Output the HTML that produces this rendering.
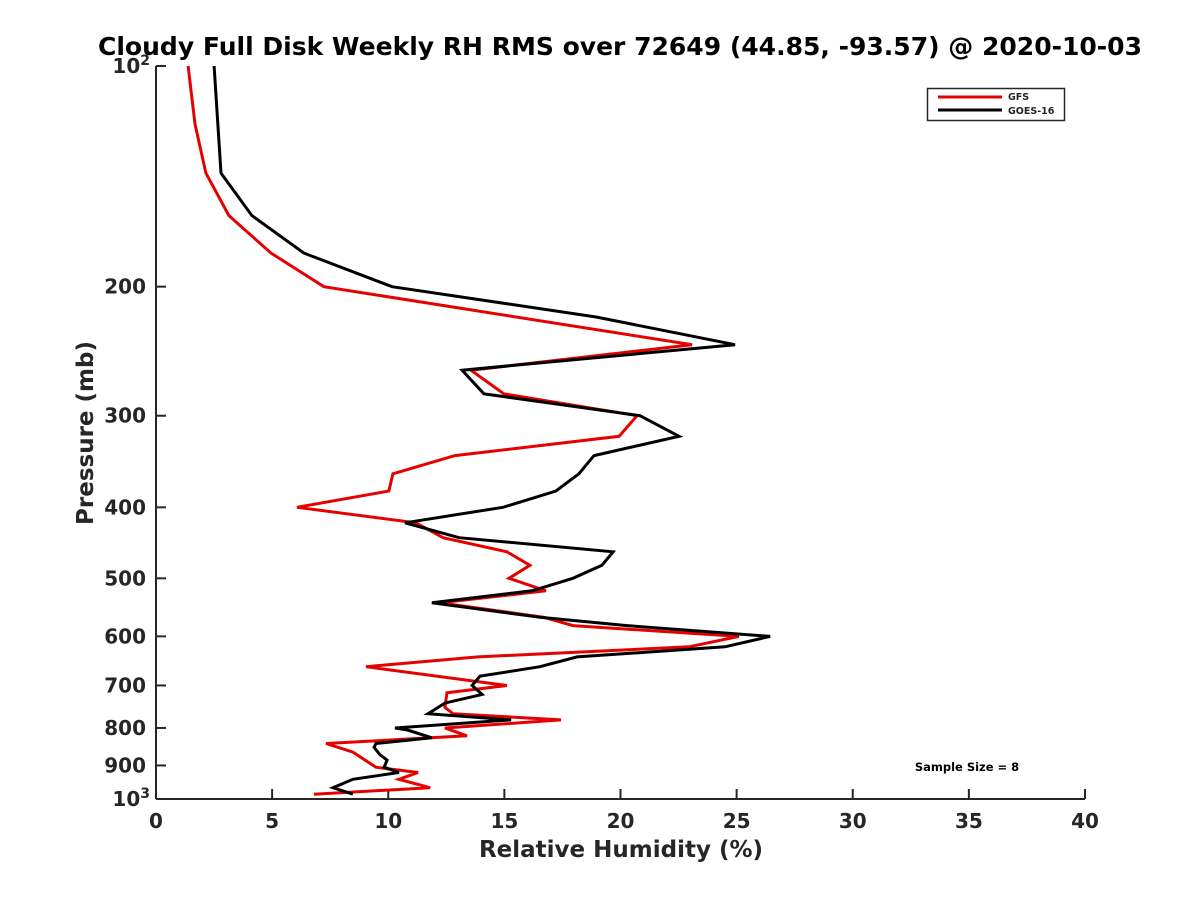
<!DOCTYPE html>
<html><head><meta charset="utf-8"><style>
body{margin:0;background:#fff;}
svg{display:block;font-family:"Liberation Sans","DejaVu Sans",sans-serif;}
</style></head><body>
<svg id="chart" width="1200" height="900">
<rect width="1200" height="900" fill="#fff"/>
<text x="620" y="55" text-anchor="middle" font-size="25" font-weight="bold" font-family="DejaVu Sans, sans-serif" textLength="1044" lengthAdjust="spacingAndGlyphs">Cloudy Full Disk Weekly RH RMS over 72649 (44.85, -93.57) @ 2020-10-03</text>
<g id="axes"></g>
<g id="series"></g>
<text x="621" y="857" text-anchor="middle" font-size="23" font-weight="bold" fill="#262626" font-family="DejaVu Sans, sans-serif">Relative Humidity (%)</text>
<text transform="translate(93,433) rotate(-90)" text-anchor="middle" font-size="23" font-weight="bold" fill="#262626" font-family="DejaVu Sans, sans-serif">Pressure (mb)</text>
<g>
<rect x="927.5" y="88.5" width="137" height="32" fill="#fff" stroke="#262626" stroke-width="1.5"/>
<line x1="938" y1="97" x2="1002" y2="97" stroke="#e60000" stroke-width="3"/>
<text x="1008" y="100" font-size="9.5" font-weight="bold" fill="#262626" font-family="DejaVu Sans, sans-serif">GFS</text>
<line x1="938" y1="110" x2="1002" y2="110" stroke="#000" stroke-width="3"/>
<text x="1008" y="114" font-size="9.5" font-weight="bold" fill="#262626" font-family="DejaVu Sans, sans-serif">GOES-16</text>
</g>
<text x="967" y="771" text-anchor="middle" font-size="11.5" font-weight="bold" fill="#000" font-family="DejaVu Sans, sans-serif">Sample Size = 8</text>
</svg>
<script>
const xTicks = [0,5,10,15,20,25,30,35,40];
const yTicks = [100,200,300,400,500,600,700,800,900,1000];
const goesP = [100,140,160,180,200,220,240,260,280,300,320,340,360,380,400,420,440,460,480,500,520,540,565,580,600,620,640,660,680,700,720,740,765,780,800,805,825,840,850,870,885,905,920,940,965,985];
const goesRH = [2.50,2.80,4.13,6.37,10.16,18.95,24.93,13.18,14.12,20.84,22.52,18.86,18.21,17.22,14.94,10.72,13.05,19.68,19.20,17.95,16.19,11.88,16.53,20.28,26.44,24.50,18.13,16.53,13.95,13.61,14.04,12.44,11.71,15.29,10.29,10.81,11.88,9.47,9.39,9.64,9.95,9.82,10.46,8.48,7.62,8.48];
const gfsP = [100,120,140,160,180,200,240,260,280,300,320,340,360,380,400,420,440,460,480,500,520,540,565,580,600,620,640,660,700,716,750,765,780,800,820,840,863,905,920,940,965,985];
const gfsRH = [1.38,1.68,2.15,3.14,4.95,7.23,23.08,13.56,14.98,20.71,19.94,12.87,10.20,10.03,6.07,11.19,12.36,15.11,16.10,15.20,16.79,12.23,16.71,17.95,25.10,22.95,13.86,9.04,15.11,12.53,12.44,12.79,17.44,12.44,13.39,7.32,8.48,9.47,11.28,10.46,11.80,6.80];

const NS='http://www.w3.org/2000/svg';
const X0=156,X1=1085,Y0=66,Y1=799;
function xs(v){return X0+(v/40)*(X1-X0);}
function ys(p){return Y0+(Math.log10(p)-2)*(Y1-Y0);}
function mk(tag,attrs,parent){const e=document.createElementNS(NS,tag);for(const k in attrs)e.setAttribute(k,attrs[k]);parent.appendChild(e);return e;}
const axes=document.getElementById('axes');
const ax=mk('line',{x1:X0,y1:Y1,x2:X1,y2:Y1,stroke:'#262626','stroke-width':2},axes);


const ay=mk('line',{x1:X0,y1:Y0,x2:X0,y2:Y1,stroke:'#262626','stroke-width':2},axes);


xTicks.forEach(v=>{
  const x=xs(v);
  mk('line',{x1:x,y1:Y1,x2:x,y2:Y1-10,stroke:'#262626','stroke-width':2},axes);
  const t=mk('text',{x:x,y:828,'text-anchor':'middle','font-size':20,'font-weight':'bold',fill:'#262626','font-family':'DejaVu Sans, sans-serif'},axes);
  t.textContent=v;
  
  
});
yTicks.forEach(p=>{
  const y=ys(p);
  mk('line',{x1:X0,y1:y,x2:X0+10,y2:y,stroke:'#262626','stroke-width':2},axes);
  const t=mk('text',{x:146,y:y+7,'text-anchor':'end','font-size':20,'font-weight':'bold',fill:'#262626','font-family':'DejaVu Sans, sans-serif'},axes);
  if(p===100||p===1000){
    t.textContent='10';
    const s=mk('tspan',{'font-size':14,dy:-8},t);s.textContent=p===100?'2':'3';
    t.setAttribute('x',150);
  } else t.textContent=p;
  
  
});
const ser=document.getElementById('series');
function line(P,R,color,name){
  const pts=P.map((p,i)=>xs(R[i]).toFixed(1)+','+ys(p).toFixed(1)).join(' ');
  const pl=mk('polyline',{points:pts,fill:'none',stroke:color,'stroke-width':3,'stroke-linejoin':'miter'},ser);
  
  
}
line(gfsP,gfsRH,'#e60000','gfs-line');
line(goesP,goesRH,'#000','goes16-line');
</script>
</body></html>
